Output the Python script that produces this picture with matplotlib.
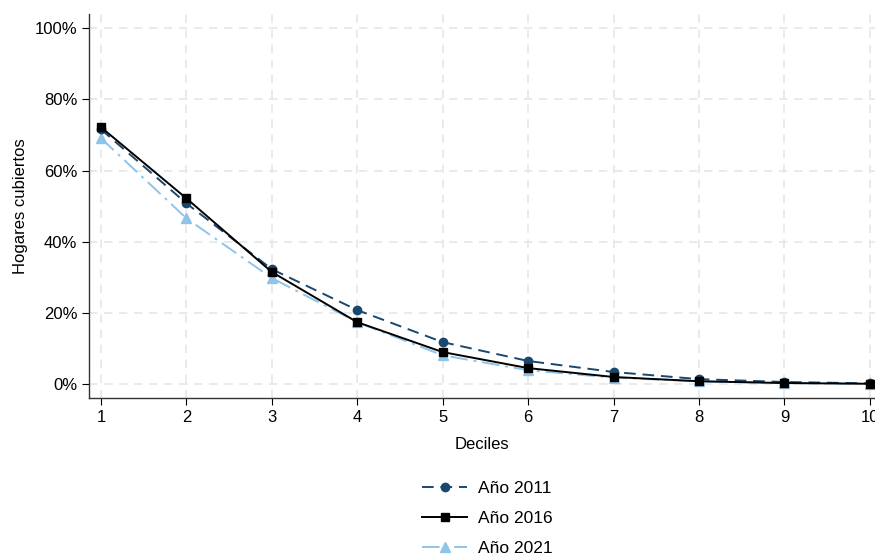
import matplotlib
matplotlib.use("Agg")
import matplotlib.pyplot as plt
from matplotlib.ticker import FuncFormatter

plt.rcParams['font.family'] = ['Liberation Sans', 'DejaVu Sans']

deciles = [1, 2, 3, 4, 5, 6, 7, 8, 9, 10]
y2011 = [71.6, 50.8, 32.3, 20.8, 11.8, 6.5, 3.4, 1.4, 0.6, 0.2]
y2016 = [72.2, 52.2, 31.5, 17.4, 9.0, 4.5, 2.0, 0.8, 0.3, 0.1]
y2021 = [69.1, 46.6, 29.8, 17.4, 8.1, 3.9, 1.8, 0.8, 0.3, 0.1]
labels = ["Año 2011", "Año 2016", "Año 2021"]
yticks = [0, 20, 40, 60, 80, 100]

fig = plt.figure(figsize=(8.75, 5.54), dpi=100)
ax = fig.add_axes([0.1017, 0.2816, 0.8983, 0.6931])

ax.plot(deciles, y2011, color='#1a476f', linestyle=(0, (6, 3.5)), linewidth=1.4,
        marker='o', markersize=6, label=labels[0], zorder=3)
ax.plot(deciles, y2016, color='black', linestyle='-', linewidth=1.4,
        marker='s', markersize=6, label=labels[1], zorder=4)
ax.plot(deciles, y2021, color='#8ec3ea', linestyle=(0, (9, 3, 1.5, 3)), linewidth=1.4,
        marker='^', markersize=6.5, label=labels[2], zorder=2)

ax.set_xlim(0.86, 10.06)
ax.set_ylim(-3.9, 104)
ax.set_xticks(deciles)
ax.set_yticks(yticks)
ax.yaxis.set_major_formatter(FuncFormatter(lambda v, p: f"{int(v)}%"))
ax.grid(True, color='#e6e6e6', linestyle=(0, (5, 4)), linewidth=1.2)
ax.set_axisbelow(True)
for s in ['top', 'right']:
    ax.spines[s].set_visible(False)
for s in ['left', 'bottom']:
    ax.spines[s].set_color('#333333')
    ax.spines[s].set_linewidth(1.0)
ax.tick_params(direction='out', length=5, labelsize=12, colors='black')
ax.set_xlabel("Deciles", fontsize=12, labelpad=9)
ax.set_ylabel("Hogares cubiertos", fontsize=12, labelpad=5)

fig.legend(loc='upper center', bbox_to_anchor=(0.557, 0.145), ncol=1, frameon=False,
           fontsize=12.5, handlelength=2.6, handletextpad=0.6, labelspacing=0.86,
           borderaxespad=0)

fig.savefig("out.png", dpi=100)
